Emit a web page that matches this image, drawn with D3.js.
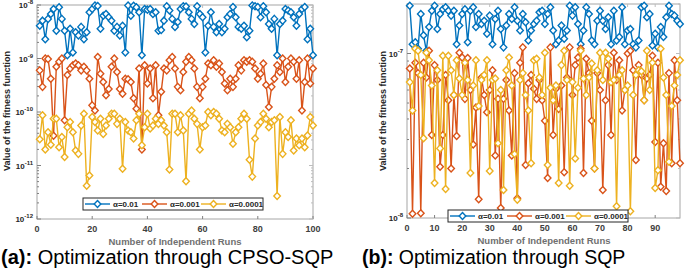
<!DOCTYPE html>
<html>
<head>
<meta charset="utf-8">
<script src="https://cdn.jsdelivr.net/npm/d3@7"></script>
<style>
  body { margin: 0; background: #fff; }
  svg { font-family: 'Liberation Sans', Arial, sans-serif; }
</style>
</head>
<body>
<div id="chart"></div>
<script>
// (a) CPSO-SQP, runs 1..100
const blueA = [4.1e-9, 5.1e-9, 2.3e-9, 5.5e-9, 6.8e-9, 8.4e-9, 3.3e-9, 9.1e-9, 5.5e-9, 3.3e-9,
  1.15e-9, 3.6e-9, 1.3e-9, 3.1e-9, 2.7e-9, 3.9e-9, 2.3e-9, 3.1e-9, 7.3e-9, 8.4e-9,
  9.8e-9, 9.6e-9, 3.6e-9, 6.3e-9, 6.8e-9, 5.9e-9, 5.1e-9, 3.3e-9, 3.9e-9, 2.7e-9,
  4.1e-9, 1.3e-9, 9.8e-9, 6.3e-9, 9.7e-9, 9.1e-9, 7.3e-9, 1.15e-9, 8.4e-9, 8.2e-9,
  8.4e-9, 6.8e-9, 7.3e-9, 3.3e-9, 3.4e-9, 5.1e-9, 9.5e-9, 7.9e-9, 5.5e-9, 3.9e-9,
  4.8e-9, 8.4e-9, 9.5e-9, 9.4e-9, 7.3e-9, 5.5e-9, 4.4e-9, 9.5e-9, 6.8e-9, 5.9e-9,
  1.3e-9, 4.1e-9, 7.3e-9, 3.9e-9, 3.1e-9, 4.4e-9, 3.1e-9, 3.6e-9, 5.9e-9, 6.8e-9,
  9.2e-9, 5.9e-9, 3.9e-9, 3.6e-9, 4.1e-9, 2.5e-9, 3.3e-9, 9.8e-9, 9.5e-9, 9.2e-9,
  5.9e-9, 9.5e-9, 7.3e-9, 4.4e-9, 3.6e-9, 5.5e-9, 1.15e-9, 4.4e-9, 5.1e-9, 8.4e-9,
  7.9e-9, 7.3e-9, 5.9e-9, 4.1e-9, 6.8e-9, 8.4e-9, 9.2e-9, 2.3e-9, 3.6e-9, 1.15e-9]

const redA = [6.0e-10, 2.95e-10, 1.0e-9, 9.8e-10, 4.2e-10, 3.6e-11, 7.0e-10, 8.7e-10, 1.0e-9, 7.0e-11,
  4.9e-10, 6.5e-10, 7.5e-10, 8.1e-10, 7.5e-10, 6.0e-10, 7.0e-10, 6.0e-10, 4.2e-10, 1.33e-10,
  1.07e-10, 1.07e-9, 5.2e-10, 3.65e-10, 2.05e-10, 2.7e-10, 7.0e-10, 1.0e-9, 5.6e-10, 2.7e-10,
  2.2e-10, 4.2e-10, 4.1e-10, 3.65e-10, 1.8e-10, 1.15e-10, 6.5e-10, 2.0e-11, 7.5e-10, 3.4e-10,
  6.5e-10, 1.8e-10, 7.5e-10, 8.7e-11, 2.4e-10, 6.5e-10, 6.0e-10, 9.3e-10, 1.07e-9, 6.5e-10,
  2.95e-10, 2.55e-10, 5.6e-10, 8.7e-10, 1.07e-9, 9.3e-10, 6.5e-10, 2.95e-10, 1.8e-10, 2.95e-10,
  4.2e-10, 8.1e-10, 7.5e-10, 9.3e-10, 7.0e-10, 8.1e-10, 5.6e-10, 3.4e-10, 2.55e-10, 4.2e-10,
  2.95e-10, 4.2e-10, 7.5e-10, 6.0e-10, 9.3e-10, 8.7e-10, 9.3e-10, 8.7e-10, 6.5e-10, 4.2e-10,
  5.2e-10, 8.1e-10, 3.2e-10, 1.24e-10, 2.95e-10, 4.2e-10, 7.5e-10, 5.6e-10, 1.0e-9, 3.65e-10,
  7.0e-10, 1.0e-9, 8.7e-10, 4.2e-10, 9.3e-10, 1.07e-10, 3.65e-10, 1.0e-9, 3.4e-10, 6.5e-10]

const yellowA = [3.1e-11, 8.7e-11, 2.0e-11, 4.2e-11, 2.45e-11, 7.5e-11, 7.5e-11, 2.2e-11, 3.4e-11, 1.44e-11,
  5.2e-11, 6.5e-11, 4.2e-11, 1.9e-11, 1.65e-11, 5.6e-11, 9.3e-11, 4.2e-12, 6.5e-12, 8.1e-11,
  6.5e-11, 4.5e-11, 7.5e-11, 3.9e-11, 5.6e-11, 7.5e-11, 9.3e-11, 9.3e-11, 6.0e-11, 7.5e-11,
  8.7e-12, 6.5e-11, 4.5e-11, 4.2e-11, 3.2e-11, 7.0e-11, 9.3e-11, 2.4e-11, 5.2e-11, 9.3e-11,
  4.9e-11, 5.6e-11, 7.5e-11, 6.0e-11, 7.0e-11, 5.6e-11, 4.2e-11, 8.4e-12, 9.3e-11, 9.3e-11,
  4.2e-11, 8.7e-11, 4.5e-11, 5.1e-12, 9.3e-11, 1.07e-10, 7.5e-11, 6.0e-11, 2.0e-11, 5.2e-11,
  5.6e-11, 1.0e-10, 8.7e-11, 1.0e-10, 9.3e-11, 7.5e-11, 4.5e-11, 4.2e-11, 6.0e-11, 5.2e-11,
  2.55e-11, 4.2e-11, 5.2e-11, 7.5e-11, 9.3e-11, 7.5e-11, 1.28e-11, 6.2e-12, 3.2e-11, 5.6e-11,
  6.5e-11, 9.3e-11, 7.5e-11, 5.2e-11, 6.5e-11, 7.0e-11, 2.7e-12, 8.1e-11, 1.65e-11, 4.2e-11,
  3.4e-11, 7.0e-11, 1.9e-11, 3.2e-11, 2.4e-11, 3.2e-11, 2.2e-11, 3.65e-11, 8.1e-11, 5.6e-11]

// (b) SQP, runs 1..99
const blueB = [1.95e-7, 1.14e-7, 1.17e-7, 1.07e-7, 1.74e-7, 1.29e-7, 1.04e-7, 1.45e-7, 1.82e-7, 1.95e-7,
  1.41e-7, 1.74e-7, 1.86e-7, 1.91e-7, 1.82e-7, 1.70e-7, 1.82e-7, 1.14e-7, 1.48e-7, 1.74e-7,
  1.86e-7, 1.17e-7, 1.82e-7, 1.91e-7, 1.45e-7, 1.74e-7, 1.51e-7, 1.58e-7, 1.32e-7, 1.70e-7,
  1.14e-7, 1.62e-7, 1.82e-7, 1.41e-7, 1.09e-7, 1.48e-7, 1.74e-7, 1.62e-7, 1.91e-7, 1.58e-7,
  1.38e-7, 1.74e-7, 1.55e-7, 1.20e-7, 1.38e-7, 1.51e-7, 1.58e-7, 1.78e-7, 1.82e-7, 1.51e-7,
  1.74e-7, 1.91e-7, 1.38e-7, 1.14e-7, 1.20e-7, 1.48e-7, 1.23e-7, 1.38e-7, 1.95e-7, 1.70e-7,
  1.91e-7, 1.51e-7, 1.14e-7, 1.38e-7, 1.91e-7, 1.74e-7, 1.20e-7, 1.14e-7, 1.58e-7, 1.82e-7,
  1.58e-7, 1.41e-7, 1.66e-7, 1.14e-7, 1.82e-7, 1.20e-7, 1.26e-7, 1.91e-7, 1.14e-7, 1.38e-7,
  1.41e-7, 1.14e-7, 1.09e-7, 1.20e-7, 1.91e-7, 1.95e-7, 1.66e-7, 1.74e-7, 1.12e-7, 1.32e-7,
  1.09e-7, 1.45e-7, 1.26e-7, 1.66e-7, 1.95e-7, 1.74e-7, 1.70e-7, 1.58e-7, 1.51e-7]

const redB = [8.1e-8, 1.06e-8, 8.8e-8, 7.6e-8, 1.07e-8, 8.8e-8, 7.15e-8, 1.04e-7, 3.2e-8, 8.5e-8,
  6.9e-8, 2.05e-8, 3.2e-8, 7.4e-8, 5.2e-8, 2.0e-8, 5.6e-8, 3.15e-8, 1.01e-7, 9.45e-8,
  5.3e-8, 9.4e-8, 6.0e-8, 2.8e-8, 4.7e-8, 1.3e-8, 7.15e-8, 5.6e-8, 4.4e-8, 6.0e-8,
  7.9e-8, 2.4e-8, 5.3e-8, 1.15e-8, 5.3e-8, 6.9e-8, 4.5e-8, 2.4e-8, 7.6e-8, 1.32e-8,
  8.8e-8, 1.09e-7, 2.1e-8, 6.6e-8, 7.4e-8, 6.1e-8, 5.3e-8, 6.9e-8, 5.2e-8, 3.9e-8,
  1.75e-8, 1.09e-7, 3.2e-8, 6.1e-8, 4.6e-8, 6.4e-8, 1.9e-8, 7.15e-8, 1.09e-7, 5.6e-8,
  8.5e-8, 9.45e-8, 1.07e-7, 1.88e-8, 9.3e-8, 7.6e-8, 3.9e-8, 2.0e-8, 7.6e-8, 6.0e-8,
  1.48e-8, 5.2e-8, 8.5e-8, 3.2e-8, 1.01e-7, 6.9e-8, 9.1e-8, 4.5e-8, 6.0e-8, 1.0e-7,
  1.04e-7, 7.9e-8, 2.25e-8, 8.5e-8, 7.4e-8, 5.2e-8, 7.05e-8, 7.4e-8, 9.7e-8, 2.9e-8,
  8.8e-8, 1.55e-8, 2.85e-8, 1.46e-8, 7.6e-8, 2.15e-8, 9.1e-8, 5.2e-8, 2.15e-8]

const yellowB = [6.7e-8, 4.5e-8, 1.07e-7, 1.04e-7, 7.4e-8, 3.05e-8, 1.01e-7, 9.1e-8, 6.4e-8, 1.63e-8,
  7.9e-8, 2.65e-8, 9.7e-8, 1.5e-8, 9.7e-8, 7.9e-8, 5.6e-8, 9.1e-8, 7.05e-8, 5.6e-8,
  8.8e-8, 6.9e-8, 1.88e-8, 6.4e-8, 9.1e-8, 4.8e-8, 6.9e-8, 7.4e-8, 9.1e-8, 1.93e-8,
  6.9e-8, 7.05e-8, 2.85e-8, 6.0e-8, 1.48e-8, 7.9e-8, 9.45e-8, 6.4e-8, 2.45e-8, 1.29e-8,
  6.9e-8, 7.6e-8, 5.6e-8, 4.5e-8, 2.15e-8, 9.1e-8, 9.3e-8, 7.15e-8, 5.6e-8, 1.01e-7,
  2.1e-8, 6.2e-8, 5.2e-8, 6.4e-8, 1.63e-8, 8.5e-8, 1.04e-7, 6.9e-8, 1.57e-8, 6.7e-8,
  2.3e-8, 6.2e-8, 1.04e-7, 7.05e-8, 5.6e-8, 7.15e-8, 8.7e-8, 2.0e-8, 7.9e-8, 1.01e-7,
  6.9e-8, 1.01e-7, 9.3e-8, 6.7e-8, 6.9e-8, 1.18e-8, 7.4e-8, 7.9e-8, 6.0e-8, 6.4e-8,
  1.1e-8, 5.6e-8, 7.4e-8, 7.9e-8, 7.8e-8, 5.2e-8, 1.04e-7, 6.0e-8, 8.8e-8, 1.52e-8,
  1.95e-8, 1.07e-7, 7.15e-8, 5.6e-8, 2.2e-8, 4.8e-8, 6.4e-8, 7.4e-8, 9.1e-8]

const legendLabels = ['α=0.01', 'α=0.001', 'α=0.0001']
const xTicksA = [0, 20, 40, 60, 80, 100]
const xTicksB = [0, 10, 20, 30, 40, 50, 60, 70, 80, 90]
const yExpA = [-12, -11, -10, -9, -8]
const yExpB = [-8, -7]

const colors = ['#0072BD', '#D95319', '#EDB120']

const svg = d3
  .select('#chart')
  .append('svg')
  .attr('width', 685)
  .attr('height', 270)

function drawPanel(p) {
  const x = d3.scaleLinear().domain(p.xDomain).range([p.left, p.right])
  const y = d3.scaleLog().domain(p.yDomain).range([p.bottom, p.top])
  const g = svg.append('g')

  // frame
  g.append('rect')
    .attr('x', p.left)
    .attr('y', p.top)
    .attr('width', p.right - p.left)
    .attr('height', p.bottom - p.top)
    .attr('fill', 'none')
    .attr('stroke', '#a6a6a6')
    .attr('stroke-width', 1)

  // x ticks, inward on bottom and top
  p.xTicks.forEach(t => {
    g.append('line').attr('x1', x(t)).attr('x2', x(t))
      .attr('y1', p.bottom).attr('y2', p.bottom - 3)
      .attr('stroke', '#808080')
    g.append('line').attr('x1', x(t)).attr('x2', x(t))
      .attr('y1', p.top).attr('y2', p.top + 3)
      .attr('stroke', '#bdbdbd')
    g.append('text')
      .text(t)
      .attr('x', x(t))
      .attr('y', p.bottom + 13)
      .attr('text-anchor', 'middle')
      .attr('font-size', 9)
      .attr('font-weight', 'bold')
      .attr('fill', '#404040')
  })

  // log y ticks (major + minor), both sides
  const lo = Math.floor(Math.log10(p.yDomain[0]))
  const hi = Math.ceil(Math.log10(p.yDomain[1]))
  for (let e = lo; e <= hi; e++) {
    for (let k = 1; k <= 9; k++) {
      const v = k * Math.pow(10, e)
      if (v < p.yDomain[0] * 0.999 || v > p.yDomain[1] * 1.001) continue
      const len = k === 1 ? 4 : 2
      g.append('line').attr('x1', p.left).attr('x2', p.left + len)
        .attr('y1', y(v)).attr('y2', y(v)).attr('stroke', '#808080')
      g.append('line').attr('x1', p.right).attr('x2', p.right - len)
        .attr('y1', y(v)).attr('y2', y(v)).attr('stroke', '#bdbdbd')
    }
  }
  p.yExp.forEach(e => {
    const lab = g.append('text')
      .attr('x', p.left - 4)
      .attr('y', y(Math.pow(10, e)) + 3)
      .attr('text-anchor', 'end')
      .attr('font-size', 8)
      .attr('font-weight', 'bold')
      .attr('fill', '#262626')
    lab.append('tspan').text('10')
    lab.append('tspan').text(e).attr('font-size', 6).attr('dy', -4)
  })

  // axis titles
  g.append('text')
    .text('Number of Independent Runs')
    .attr('x', p.xTitleX)
    .attr('y', p.bottom + 26)
    .attr('text-anchor', 'middle')
    .attr('font-size', 9.5)
    .attr('font-weight', 'bold')
    .attr('fill', '#707070')
  g.append('text')
    .text('Value of the fitness function')
    .attr('transform', 'translate(' + p.yTitleX + ',111) rotate(-90)')
    .attr('text-anchor', 'middle')
    .attr('font-size', 9)
    .attr('font-weight', 'bold')
    .attr('fill', '#262626')

  // series
  const line = d3.line()
    .x((d, i) => x(i + 1))
    .y(d => y(d))
  const diamond = 'M0,-3.5L3.3,0L0,3.5L-3.3,0Z'
  p.series.forEach((s, k) => {
    g.append('path')
      .datum(s)
      .attr('d', line)
      .attr('fill', 'none')
      .attr('stroke', colors[k])
      .attr('stroke-width', 1.4)
    g.append('g')
      .selectAll('path')
      .data(s)
      .enter()
      .append('path')
      .attr('d', diamond)
      .attr('transform', (d, i) => 'translate(' + x(i + 1) + ',' + y(d) + ')')
      .attr('fill', '#fff')
      .attr('stroke', colors[k])
      .attr('stroke-width', 1.4)
  })

  // legend
  const lg = g.append('g').attr('transform', 'translate(' + p.legendX + ',' + p.legendY + ')')
  lg.append('rect')
    .attr('width', 180)
    .attr('height', 12)
    .attr('fill', '#fff')
    .attr('stroke', '#262626')
    .attr('stroke-width', 1)
  const offs = [2, 59, 118]
  legendLabels.forEach((l, k) => {
    lg.append('line')
      .attr('x1', offs[k]).attr('x2', offs[k] + 25)
      .attr('y1', 6).attr('y2', 6)
      .attr('stroke', colors[k]).attr('stroke-width', 1.4)
    lg.append('path')
      .attr('d', diamond)
      .attr('transform', 'translate(' + (offs[k] + 12.5) + ',6)')
      .attr('fill', '#fff')
      .attr('stroke', colors[k])
      .attr('stroke-width', 1.4)
    lg.append('text')
      .text(l)
      .attr('x', offs[k] + 28)
      .attr('y', 9)
      .attr('font-size', 8)
      .attr('font-weight', 'bold')
      .attr('fill', '#262626')
  })

  // caption
  const cap = svg.append('text')
    .attr('x', p.capX)
    .attr('y', 264)
    .attr('font-size', p.capSize)
    .attr('fill', '#000')
  cap.append('tspan').text(p.capTag).attr('font-weight', 'bold')
  cap.append('tspan').text(' ' + p.capText)
}

drawPanel({
  left: 37, right: 313, top: 5, bottom: 219,
  xDomain: [0, 100], yDomain: [1e-12, 1e-8],
  xTicks: xTicksA, yExp: yExpA,
  series: [blueA, redA, yellowA],
  xTitleX: 175, yTitleX: 10,
  legendX: 83, legendY: 198,
  capX: 1, capSize: 20, capTag: '(a):', capText: 'Optimization through CPSO-SQP'
})

drawPanel({
  left: 407, right: 680, top: 4, bottom: 218,
  xDomain: [0, 99], yDomain: [1e-8, 2e-7],
  xTicks: xTicksB, yExp: yExpB,
  series: [blueB, redB, yellowB],
  xTitleX: 544, yTitleX: 386,
  legendX: 448, legendY: 210,
  capX: 362, capSize: 19.5, capTag: '(b):', capText: 'Optimization through SQP'
})
</script>
</body>
</html>
